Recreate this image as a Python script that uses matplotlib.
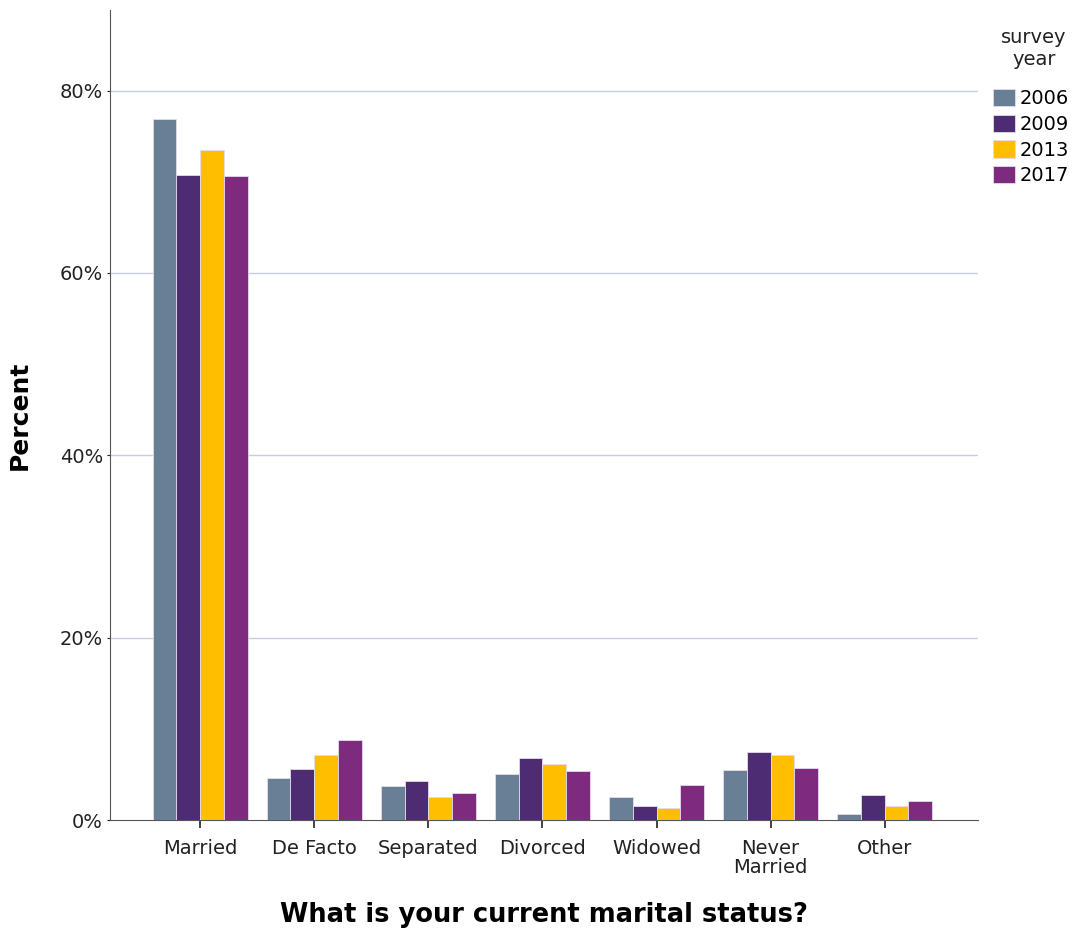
import numpy as np
import matplotlib
matplotlib.use("Agg")
import matplotlib.pyplot as plt
from matplotlib.ticker import FuncFormatter

plt.rcParams['font.family'] = ['DejaVu Sans']

# data (percent)
statuses = ["Married", "De Facto", "Separated", "Divorced", "Widowed", "Never\nMarried", "Other"]
years = ["2006", "2009", "2013", "2017"]
pct_2006 = [76.9, 4.6, 3.7, 5.1, 2.5, 5.5, 0.7]
pct_2009 = [70.7, 5.6, 4.3, 6.8, 1.5, 7.5, 2.8]
pct_2013 = [73.5, 7.1, 2.55, 6.1, 1.3, 7.1, 1.5]
pct_2017 = [70.6, 8.8, 2.95, 5.4, 3.8, 5.7, 2.1]
yticks = [0, 20, 40, 60, 80]

series = [pct_2006, pct_2009, pct_2013, pct_2017]
colors = ["#687f96", "#4e2c74", "#ffbf00", "#7e2a7e"]

fig = plt.figure(figsize=(10.76, 9.34), dpi=100)
ax = fig.add_axes([0.1022, 0.122, 0.807, 0.867])

x = np.arange(len(statuses))
width = 0.208
for i, (vals, col) in enumerate(zip(series, colors)):
    ax.bar(x + (i - 1.5) * width, vals, width, color=col, edgecolor="#e4dcea",
           linewidth=0.6, label=years[i], zorder=3)

ax.set_xlim(-0.79, 6.82)
ax.set_ylim(0, 88.8)
ax.set_yticks(yticks)
ax.yaxis.set_major_formatter(FuncFormatter(lambda v, p: f"{v:.0f}%"))
ax.set_xticks(x)
ax.set_xticklabels(statuses, linespacing=1.0)

for v in yticks[1:]:
    ax.axhline(v, color="#c9cde2", linewidth=1.0, zorder=1)

for s in ["top", "right"]:
    ax.spines[s].set_visible(False)
ax.spines["left"].set_color("#555555")
ax.spines["bottom"].set_color("#555555")
ax.tick_params(axis="x", labelsize=14, colors="#222222", length=6, width=1.2, pad=8)
ax.tick_params(axis="y", labelsize=14, colors="#222222", length=2, width=0.8, pad=3)

ax.set_ylabel("Percent", fontsize=18, fontweight="bold", labelpad=20)
ax.set_xlabel("What is your current marital status?", fontsize=18.5, fontweight="bold", labelpad=18)

# legend title drawn separately so it sits centred above the entries
fig.text(0.961, 0.948, "survey\nyear", ha="center", va="center", fontsize=14,
         linespacing=1.2, color="#222222")
leg = fig.legend(loc="upper left", bbox_to_anchor=(0.916, 0.913), frameon=False,
                 fontsize=14, handlelength=1.1, handleheight=1.0, handletextpad=0.25,
                 labelspacing=0.32, borderaxespad=0.0)

fig.savefig("out.png", dpi=100)
